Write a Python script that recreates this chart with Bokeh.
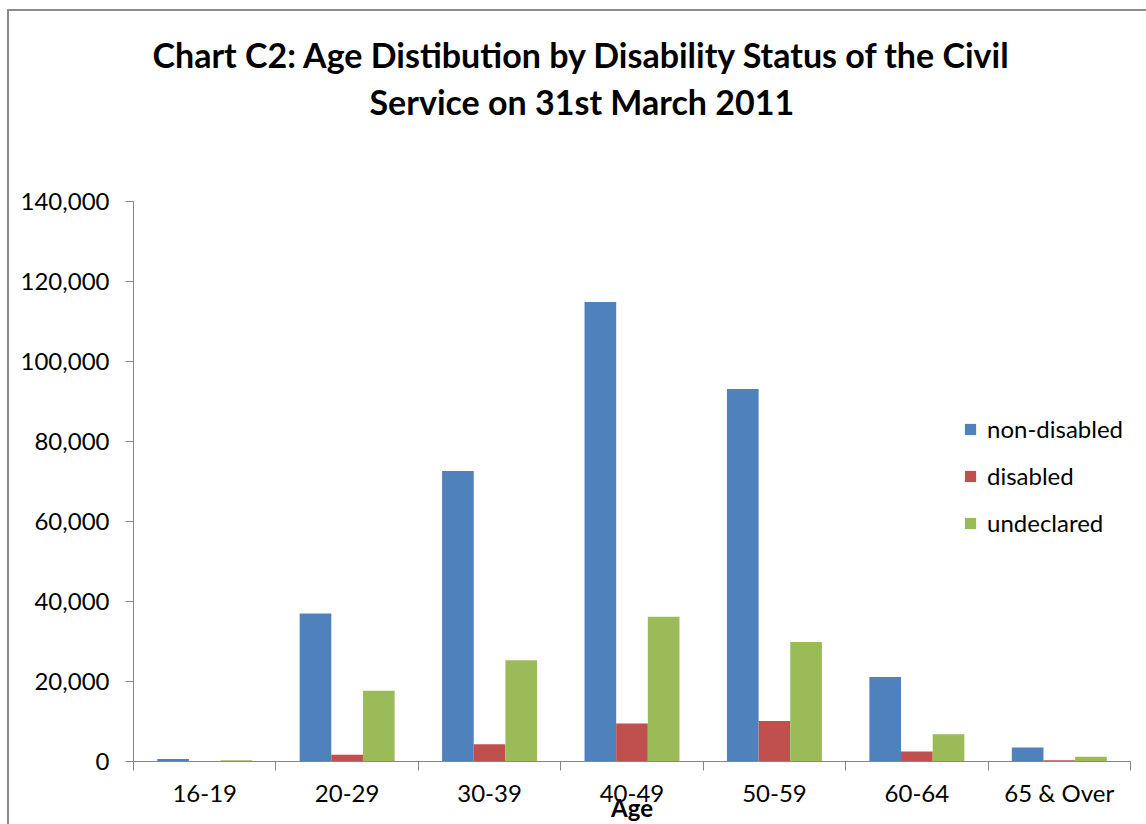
from bokeh.plotting import figure
from bokeh.models import (FixedTicker, NumeralTickFormatter, Legend, LegendItem,
                          Title, ColumnDataSource, Range1d)
from bokeh.embed import file_html
from bokeh.resources import INLINE

categories = ["16-19", "20-29", "30-39", "40-49", "50-59", "60-64", "65 & Over"]
non_disabled = [600, 37000, 72600, 114900, 93100, 21100, 3500]
disabled = [30, 1700, 4300, 9500, 10100, 2500, 300]
undeclared = [300, 17700, 25300, 36200, 29900, 6800, 1200]
series_names = ["non-disabled", "disabled", "undeclared"]
series_values = [non_disabled, disabled, undeclared]
colors = ["#4F81BD", "#C0504D", "#9BBB59"]
y_ticks = [0, 20000, 40000, 60000, 80000, 100000, 120000, 140000]
title_lines = ["Chart C2: Age Distibution by Disability Status of the Civil",
               "Service on 31st March 2011"]
x_title = "Age"

FONT = "Lato"
AXIS_COLOR = "#868686"

n = len(categories)
p = figure(width=1137, height=813, output_backend="svg", toolbar_location=None,
           x_range=Range1d(-0.5, n - 0.5), y_range=Range1d(0, 140000),
           min_border_left=124, min_border_right=16, min_border_top=190,
           min_border_bottom=63)
p.margin = (11, 0, 0, 9)
p.styles = {"outline": "2px solid #8c8c8c"}
p.outline_line_color = None
p.grid.visible = False
p.background_fill_color = "white"
p.border_fill_color = "white"

bw = 1 / 4.5
items = []
for k, (name, vals, col) in enumerate(zip(series_names, series_values, colors)):
    src = ColumnDataSource(dict(x=[i + (k - 1) * bw for i in range(n)], top=vals))
    r = p.vbar(x="x", top="top", width=bw, bottom=0, source=src,
               fill_color=col, line_color=None)
    items.append(LegendItem(label=name, renderers=[r]))

# x axis
p.xaxis.ticker = FixedTicker(ticks=list(range(n)),
                             minor_ticks=[i - 0.5 for i in range(n + 1)])
p.xaxis.major_label_overrides = {i: c for i, c in enumerate(categories)}
p.xaxis.major_tick_in = 0
p.xaxis.major_tick_out = 0
p.xaxis.major_tick_line_color = None
p.xaxis.minor_tick_in = 0
p.xaxis.minor_tick_out = 9
p.xaxis.minor_tick_line_color = AXIS_COLOR
p.xaxis.axis_line_color = AXIS_COLOR
p.xaxis.major_label_standoff = 7
p.xaxis.major_label_text_font = FONT
p.xaxis.major_label_text_font_size = "24px"
p.xaxis.major_label_text_color = "black"
p.xaxis.axis_label = x_title
p.xaxis.axis_label_standoff = -17
p.xaxis.axis_label_text_font = FONT
p.xaxis.axis_label_text_font_style = "bold"
p.xaxis.axis_label_text_font_size = "24px"
p.xaxis.axis_label_text_color = "black"

# y axis
p.yaxis.ticker = FixedTicker(ticks=y_ticks)
p.yaxis.formatter = NumeralTickFormatter(format="0,0")
p.yaxis.major_tick_in = 0
p.yaxis.major_tick_out = 8
p.yaxis.major_tick_line_color = AXIS_COLOR
p.yaxis.minor_tick_line_color = None
p.yaxis.axis_line_color = AXIS_COLOR
p.yaxis.major_label_standoff = 16
p.yaxis.major_label_text_font = FONT
p.yaxis.major_label_text_font_size = "24px"
p.yaxis.major_label_text_color = "black"

# spacer between the frame and the title
p.add_layout(Title(text=" ", text_font_size="10px", standoff=67), "above")
p.add_layout(Title(text=title_lines[1], align="left", offset=236, standoff=0,
                   text_font=FONT, text_font_style="bold", text_font_size="34px",
                   text_color="black"), "above")
p.add_layout(Title(text=title_lines[0], align="left", offset=19, standoff=7,
                   text_font=FONT, text_font_style="bold", text_font_size="34px",
                   text_color="black"), "above")

legend = Legend(items=items, location=(830, 224), orientation="vertical",
                padding=0, margin=0, spacing=18, glyph_width=14, glyph_height=14,
                label_height=29, label_standoff=10,
                label_text_font=FONT, label_text_font_size="24px",
                label_text_color="black", background_fill_alpha=0,
                border_line_alpha=0)
p.add_layout(legend)

open("out.html", "w").write(file_html(p, INLINE))
